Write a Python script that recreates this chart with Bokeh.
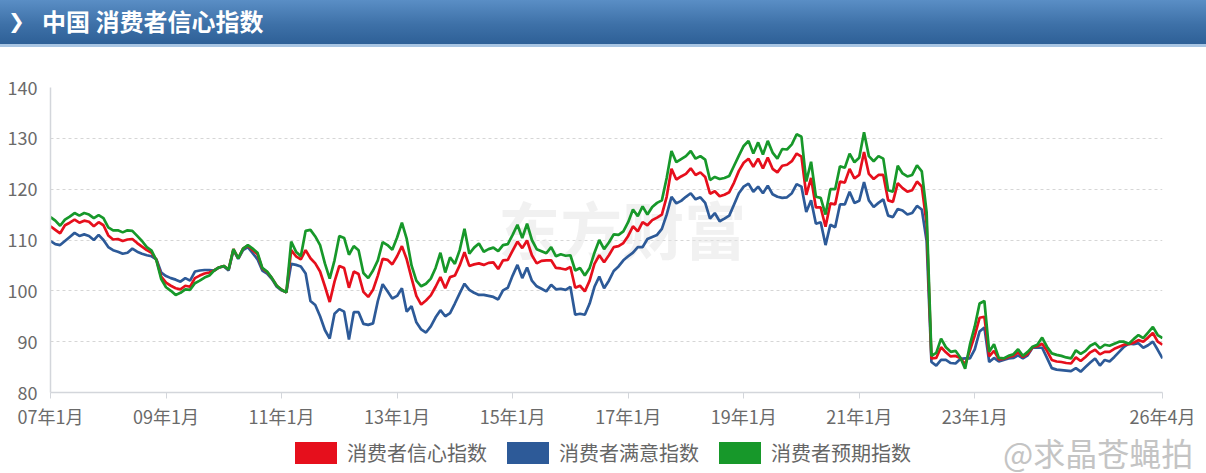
from bokeh.plotting import figure
from bokeh.models import ColumnDataSource, Range1d, FixedTicker, Label, Div
from bokeh.layouts import column
from bokeh.embed import file_html
from bokeh.resources import INLINE

FONT = "Noto Sans CJK SC"

# monthly values, 2007-01 .. 2026-04 (one row per year)
confidence = [
    112.7, 112.0, 111.3, 112.9, 113.4, 114.0, 113.4, 113.8, 113.6, 112.7, 113.5, 112.9,
    110.9, 110.1, 110.2, 109.8, 110.1, 110.2, 109.4, 108.7, 108.0, 107.5, 106.1, 102.8,
    101.6, 101.0, 100.5, 100.3, 101.0, 100.8, 102.5, 103.0, 103.4, 103.6, 104.0, 104.6,
    104.9, 104.2, 108.2, 106.4, 108.3, 108.9, 108.0, 107.2, 104.4, 103.7, 102.5, 101.0,
    100.2, 99.7, 108.0, 106.8, 106.2, 108.0, 106.4, 105.4, 103.8, 100.9, 97.8, 101.8,
    104.9, 104.5, 100.6, 103.8, 103.3, 99.8, 98.8, 100.2, 103.0, 106.3, 106.1, 105.2,
    106.8, 108.8, 106.2, 102.5, 99.0, 97.3, 98.1, 99.1, 100.8, 102.7, 100.5, 102.7,
    103.0, 105.0, 107.6, 104.9, 105.2, 105.4, 105.1, 105.5, 105.6, 104.3, 106.0, 106.1,
    107.9, 109.7, 108.4, 109.9, 107.0, 105.4, 105.9, 106.0, 106.0, 104.5, 104.4, 104.2,
    104.7, 100.6, 101.0, 99.9, 102.0, 105.3, 107.0, 105.6, 107.0, 108.6, 108.8, 109.4,
    110.8, 112.7, 111.7, 113.5, 112.9, 113.9, 114.4, 115.0, 118.5, 124.0, 121.9, 122.5,
    123.0, 124.1, 122.8, 123.3, 122.4, 119.1, 119.6, 118.6, 118.9, 119.4, 121.3, 123.6,
    125.2, 126.0, 124.4, 126.0, 124.1, 126.2, 124.0, 123.3, 124.6, 124.8, 125.5, 127.0,
    126.4, 118.9, 122.2, 116.4, 116.4, 112.6, 117.2, 117.0, 121.5, 121.3, 124.0, 122.1,
    122.8, 127.3, 123.0, 122.0, 122.8, 122.8, 117.8, 117.5, 121.2, 120.2, 119.5, 119.8,
    121.5, 120.5, 113.2, 86.7, 86.8, 88.9, 87.9, 87.1, 87.2, 86.8, 85.5, 88.3,
    91.2, 94.7, 94.9, 87.1, 88.2, 86.5, 86.6, 87.0, 87.2, 87.9, 87.0, 87.6,
    88.9, 89.1, 89.6, 88.2, 86.4, 86.1, 86.0, 85.8, 85.7, 86.9, 86.2, 87.0,
    87.9, 88.4, 87.5, 88.0, 88.0, 88.6, 89.0, 89.4, 89.5, 89.8, 90.3, 90.0,
    90.8, 91.7, 90.0, 89.4,
]
satisfaction = [
    109.8, 109.2, 109.0, 109.8, 110.6, 111.4, 110.8, 111.1, 110.8, 110.0, 111.0, 110.0,
    108.6, 108.0, 107.7, 107.3, 107.5, 108.3, 107.7, 107.3, 107.0, 106.8, 106.2, 103.6,
    102.9, 102.5, 102.2, 101.8, 102.5, 102.0, 103.8, 104.0, 104.1, 104.1, 104.0, 104.6,
    104.8, 104.0, 108.0, 106.3, 108.0, 108.6, 107.4, 106.2, 104.0, 103.4, 102.3, 100.8,
    100.1, 99.7, 105.3, 105.1, 104.8, 103.4, 98.0, 97.2, 95.0, 92.3, 90.6, 95.5,
    96.4, 95.9, 90.4, 95.8, 95.8, 93.5, 93.3, 93.6, 98.0, 101.3, 99.9, 98.5,
    99.0, 100.5, 95.9, 97.0, 93.8, 92.4, 91.8, 93.0, 94.8, 96.2, 95.0, 95.6,
    97.5, 99.5, 101.4, 100.2, 99.6, 99.2, 99.2, 99.0, 98.8, 98.3, 100.1, 100.6,
    103.0, 105.1, 102.5, 104.6, 102.0, 100.9, 100.4, 99.9, 101.2, 100.3, 100.4, 100.2,
    100.8, 95.3, 95.5, 95.3, 97.5, 100.8, 102.8, 100.5, 102.0, 103.9, 104.8, 106.0,
    106.8, 107.5, 108.6, 108.6, 110.2, 110.6, 111.0, 112.2, 115.0, 118.5, 117.2, 117.7,
    118.5, 119.2, 118.0, 118.4, 117.3, 114.2, 115.3, 113.7, 114.2, 114.8, 117.0, 119.2,
    120.5, 121.1, 119.5, 120.5, 119.2, 120.7, 119.0, 118.5, 118.3, 118.4, 119.2, 121.0,
    120.5, 115.5, 117.8, 113.2, 113.5, 109.0, 113.0, 112.5, 117.0, 117.0, 119.5, 117.3,
    117.7, 121.4, 117.8, 116.5, 117.3, 118.0, 114.8, 114.5, 116.1, 115.8, 115.0, 115.3,
    116.7, 116.0, 109.8, 86.0, 85.3, 86.4, 86.4, 85.8, 85.7, 86.6, 86.7, 86.7,
    88.5, 92.0, 92.8, 86.0, 86.8, 86.1, 86.4, 86.7, 86.8, 87.3, 86.7, 87.3,
    88.8, 88.8, 88.8, 86.8, 84.8, 84.5, 84.4, 84.3, 84.2, 84.8, 84.1, 85.0,
    85.9, 86.7, 85.3, 86.4, 86.1, 87.0, 88.0, 89.0, 89.6, 89.5, 89.7, 88.8,
    89.3, 90.0, 88.4, 86.7,
]
expectation = [
    114.5, 113.8, 112.8, 114.0, 114.6, 115.3, 114.8, 115.3, 115.0, 114.3, 114.9, 114.3,
    112.5, 111.9, 111.9, 111.5, 111.9, 111.8, 110.8, 109.8, 108.6, 107.9, 106.0, 102.3,
    100.7, 100.0, 99.2, 99.6, 100.3, 100.2, 101.5, 102.0, 102.6, 103.0, 104.0, 104.6,
    104.9, 104.2, 108.2, 106.4, 108.3, 109.0, 108.3, 107.5, 104.5, 103.8, 102.5, 101.0,
    100.2, 99.7, 109.7, 107.7, 106.8, 111.8, 112.0, 110.7, 109.0, 105.4, 102.4, 106.0,
    110.8, 110.4, 107.1, 108.8, 108.0, 103.5, 102.5, 104.0, 106.0, 109.6, 109.0, 108.1,
    110.5, 113.4, 110.2, 105.0, 102.0, 100.9, 101.4, 102.4, 104.5, 107.5, 103.6, 106.6,
    105.3, 108.0, 112.2, 107.3, 108.5, 109.3, 107.7, 108.2, 108.5, 107.8, 109.0, 109.2,
    111.0, 113.0, 110.4, 113.2, 110.0, 108.2, 107.8, 107.4, 108.6, 106.8, 107.2, 106.9,
    107.0, 104.0, 104.5, 103.0, 104.5, 107.5, 110.0, 108.2, 109.5, 111.1, 111.0, 111.7,
    113.5, 116.0, 114.7, 116.6, 115.0, 116.5, 117.3, 117.8, 122.2, 127.5, 125.3, 125.9,
    126.5, 127.5, 126.0, 126.5, 125.8, 121.8, 122.4, 122.0, 122.2, 122.6, 124.6, 126.6,
    128.5, 129.5, 127.0, 129.2, 126.8, 129.5, 127.2, 126.0, 127.9, 127.8, 128.8, 130.8,
    130.3, 121.5, 125.4, 118.5, 118.3, 115.0, 120.0, 120.0, 124.5, 124.2, 127.0, 125.3,
    126.2, 131.2, 126.5, 125.5, 126.5, 126.0, 119.8, 119.5, 124.6, 123.1, 122.5, 122.8,
    124.7, 123.5, 115.5, 87.2, 87.8, 90.6, 88.9, 88.0, 88.2, 86.9, 84.7, 89.4,
    93.0, 97.5, 98.0, 88.0, 89.5, 86.8, 86.7, 87.2, 87.5, 88.5, 87.2, 88.0,
    89.0, 89.4, 90.8, 89.0, 87.7, 87.4, 87.2, 86.9, 86.7, 88.3, 87.6, 88.2,
    89.2, 89.7, 88.7, 89.4, 89.2, 89.6, 90.0, 90.0, 89.6, 90.5, 91.3, 90.7,
    91.8, 92.9, 91.3, 90.7,
]
months = list(range(len(confidence)))

tick_months = [0, 24, 48, 72, 96, 120, 144, 168, 192, 231]
tick_labels = ["07年1月", "09年1月", "11年1月", "13年1月", "15年1月",
               "17年1月", "19年1月", "21年1月", "23年1月", "26年4月"]
y_ticks = [80, 90, 100, 110, 120, 130, 140]

series_names = ["消费者信心指数", "消费者满意指数", "消费者预期指数"]
RED, BLUE, GREEN = "#e60f1c", "#2d5a98", "#17982a"
series_colors = [RED, BLUE, GREEN]

header = Div(
    text=('<div style="position:relative;width:1206px;height:47px;'
          'background:linear-gradient(180deg,#5a8ec5 0%,#3e71a8 55%,#2e6097 100%);'
          'border-bottom:3px solid #a8c5e3;color:#ffffff;'
          'font-family:\'Noto Sans CJK SC\',\'DejaVu Sans\';">'
          '<span style="position:absolute;left:8px;top:5px;font-size:20px;'
          'line-height:32px;font-weight:bold;font-family:\'DejaVu Sans\';">&#x276F;</span>'
          '<span style="position:absolute;left:42px;top:5px;font-size:24px;'
          'line-height:32px;font-weight:bold;white-space:nowrap;">'
          '中国 消费者信心指数</span></div>'),
    width=1206, height=50, margin=(0, 0, 0, 0))

src = ColumnDataSource(dict(month=months, confidence=confidence,
                            satisfaction=satisfaction, expectation=expectation))

p = figure(frame_width=1112, frame_height=305, output_backend="svg",
           toolbar_location=None, x_range=Range1d(0, 231), y_range=Range1d(80, 140),
           min_border_left=50, min_border_right=44, min_border_top=37,
           min_border_bottom=34, margin=(0, 0, 0, 0))
p.outline_line_color = None
p.background_fill_color = "white"
p.border_fill_color = "white"

# faint site watermark behind the lines
p.add_layout(Label(x=93, y=112.3, text="东方财富", text_font=FONT,
                   text_font_size="62px", text_font_style="bold",
                   text_color="#e4e4e4", text_alpha=0.5, text_baseline="middle",
                   level="underlay"))

p.line("month", "satisfaction", source=src, line_color=BLUE, line_width=2.7)
p.line("month", "confidence", source=src, line_color=RED, line_width=2.7)
p.line("month", "expectation", source=src, line_color=GREEN, line_width=2.7)

p.xaxis.ticker = FixedTicker(ticks=tick_months)
p.xaxis.major_label_overrides = dict(zip(tick_months, tick_labels))
p.yaxis.ticker = FixedTicker(ticks=y_ticks)
p.xgrid.grid_line_color = None
p.ygrid.ticker = FixedTicker(ticks=y_ticks[1:])
p.ygrid.grid_line_color = "#d6d6d6"
p.ygrid.grid_line_dash = "3 3"

for ax in (p.xaxis, p.yaxis):
    ax.axis_line_color = "#d3d6db"
    ax.axis_line_width = 1.5
    ax.major_tick_line_color = "#d3d6db"
    ax.minor_tick_line_color = None
    ax.major_label_text_font = FONT
    ax.major_label_text_font_size = "18px"
    ax.major_label_text_color = "#6a6a6a"
p.xaxis.major_tick_out = 6
p.xaxis.major_tick_in = 0
p.xaxis.major_label_standoff = 4
p.yaxis.major_tick_out = 0
p.yaxis.major_tick_in = 0
p.yaxis.major_label_standoff = 13

# footer strip: legend swatches + labels, and the weibo watermark
items = ""
left = 295
for name, color in zip(series_names, series_colors):
    items += ('<div style="position:absolute;left:%dpx;top:11px;width:42px;height:22px;'
              'background:%s;"></div>' % (left, color))
    items += ('<span style="position:absolute;left:%dpx;top:11px;font-size:20px;'
              'line-height:22px;color:#666666;white-space:nowrap;">%s</span>'
              % (left + 52, name))
    left += 212
footer = Div(
    text=('<div style="position:relative;width:1206px;height:47px;background:#ffffff;'
          'font-family:\'Noto Sans CJK SC\';">' + items +
          '<span style="position:absolute;left:1003px;top:4px;font-size:32px;'
          'line-height:34px;color:#c4c4c4;white-space:nowrap;">@求晶苍蝇拍</span>'
          '</div>'),
    width=1206, height=47, margin=(0, 0, 0, 0))

layout = column(header, p, footer, spacing=0)
open("out.html", "w").write(file_html(layout, INLINE))
